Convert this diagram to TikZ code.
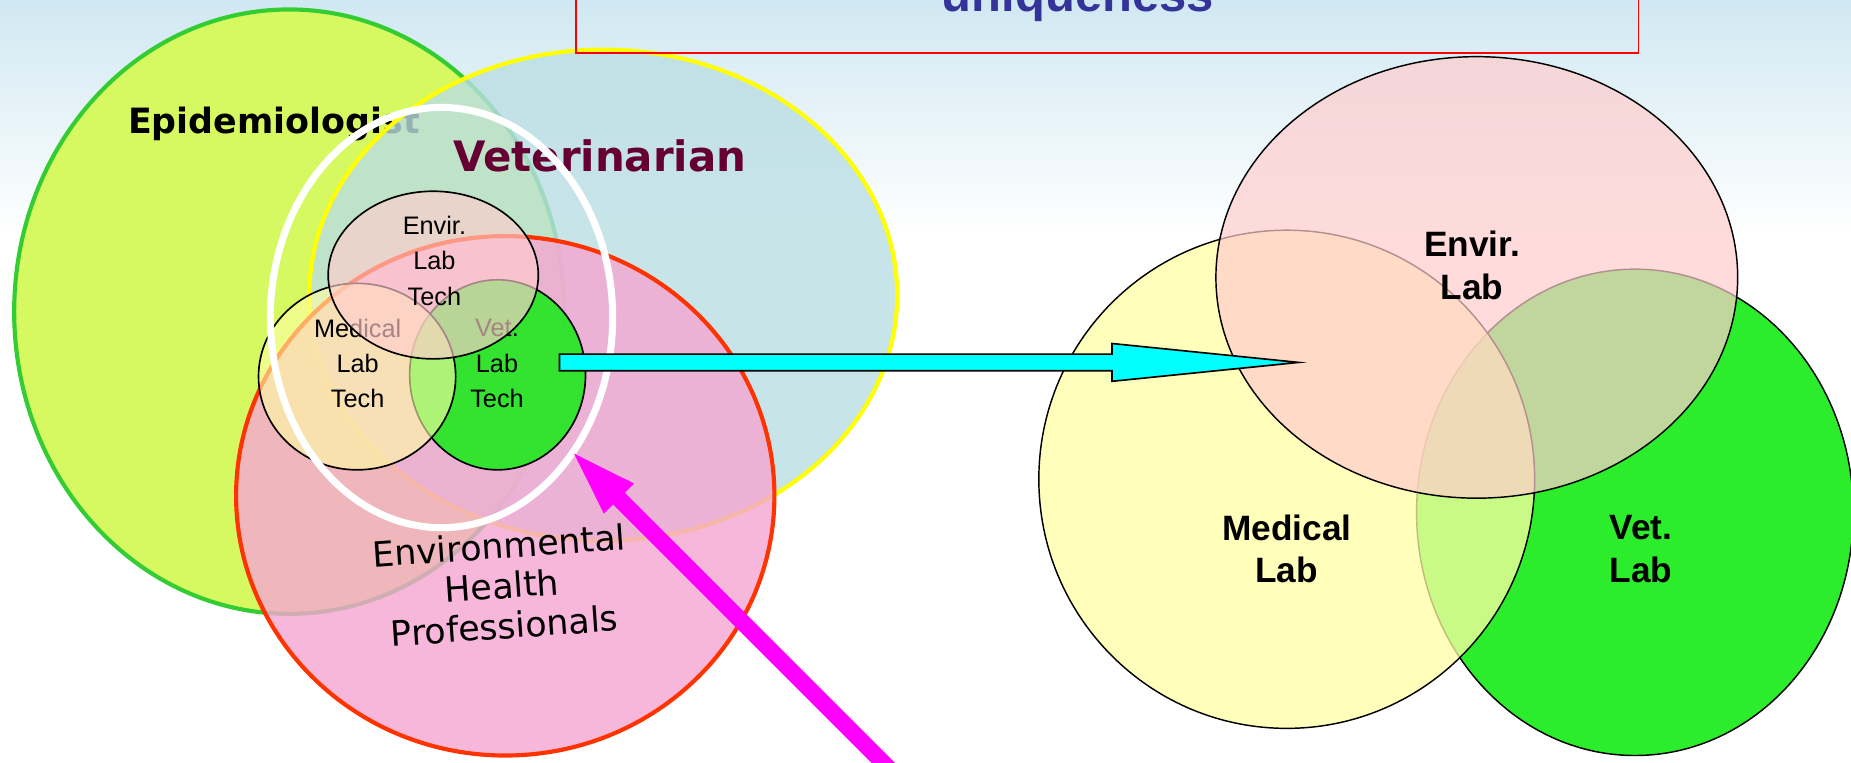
\documentclass[tikz,border=0pt]{standalone}
\usepackage{fontspec}
\setmainfont{Liberation Sans}
\newfontfamily\verdana{DejaVu Sans}
\usetikzlibrary{calc,arrows.meta}

\definecolor{epigreen}{RGB}{214,248,96}
\definecolor{epiline}{RGB}{51,204,51}
\definecolor{vetblue}{RGB}{186,222,228}
\definecolor{vetline}{RGB}{255,255,0}
\definecolor{envpink}{RGB}{246,166,210}
\definecolor{envline}{RGB}{255,51,0}
\definecolor{labpink}{RGB}{255,205,205}
\definecolor{labyellow}{RGB}{255,255,165}
\definecolor{labgreen}{RGB}{20,235,20}
\definecolor{skyblue}{RGB}{208,232,242}
\definecolor{vetred}{RGB}{102,0,51}
\definecolor{titleblue}{RGB}{51,51,153}
\definecolor{arrowcyan}{RGB}{0,255,255}
\definecolor{arrowmagenta}{RGB}{255,0,255}

\begin{document}
\begin{tikzpicture}[x=0.02cm,y=-0.02cm]
% Styles
\tikzstyle{big ring}=[line width=2pt,fill opacity=0.8]
\tikzstyle{lab ring}=[draw=black,line width=0.8pt]
\tikzstyle{small text}=[align=center,font=\fontsize{12.2}{17}\selectfont]
\tikzstyle{lab text}=[align=center,font=\bfseries\fontsize{17}{20.5}\selectfont]
\tikzstyle{cyan box}=[draw=black,fill=arrowcyan,line width=0.8pt,line join=miter]
\tikzstyle{magenta arrow}=[draw=arrowmagenta,line width=8pt,-{Triangle[length=1.2cm,width=0.62cm]}]

% background
\useasboundingbox (0,0) rectangle (1568,646);
\fill[white] (0,0) rectangle (1568,646);
\shade[top color=skyblue,bottom color=white] (0,0) rectangle (1568,200);

% the three professions
\draw[big ring,draw=epiline,fill=epigreen,fill opacity=1] (245,264) ellipse [x radius=233, y radius=256];
\node[font=\verdana\bfseries\fontsize{16.8}{20}\selectfont] (epi) at (232,105) {Epidemiologist};
\draw[big ring,draw=vetline,fill=vetblue] (511,250) ellipse [x radius=249, y radius=208];
\node[font=\verdana\bfseries\fontsize{20.2}{24}\selectfont,text=vetred] (vet) at (508,132) {Veterinarian};
\draw[big ring,draw=envline,fill=envpink] (428,420) ellipse [x radius=228, y radius=220];
\node[font=\verdana\fontsize{16.8}{19.4}\selectfont,align=center,rotate=4] (ehp) at (425,496) {Environmental\\Health\\Professionals};

% the lab techs
\draw[lab ring,fill=labgreen,fill opacity=0.85] (421.5,317.5) ellipse [x radius=74.5, y radius=80.5];
\node[small text] (vettech) at (421,308) {Vet.\\Lab\\Tech};
\draw[lab ring,fill=labyellow,fill opacity=0.6] (302.5,319) ellipse [x radius=83.5, y radius=79];
\node[small text] (medtech) at (303,308) {Medical\\Lab\\Tech};
\draw[lab ring,fill=labpink,fill opacity=0.65] (367,233) ellipse [x radius=89, y radius=71];
\node[small text] (envtech) at (368,221) {Envir.\\Lab\\Tech};

% white ring round the techs
\draw[white,line width=3.4pt] (374,269) ellipse [x radius=145, y radius=178];

% the labs
\draw[lab ring,line width=0.7pt,fill=labgreen!90!white] (1385,434) ellipse [x radius=185, y radius=206];
\draw[lab ring,line width=0.7pt,fill=labyellow,fill opacity=0.75] (1090,406) ellipse [x radius=210, y radius=211];
\draw[lab ring,line width=0.7pt,fill=labpink,fill opacity=0.7] (1251,235) ellipse [x radius=221, y radius=187];
\node[lab text] (envlab) at (1247,225) {Envir.\\Lab};
\node[lab text] (medlab) at (1090,465) {Medical\\Lab};
\node[lab text] (vetlab) at (1390,465) {Vet.\\Lab};

% arrows
\coordinate (cyanstart) at (474,307);
\coordinate (cyantip) at (1100,307);
\draw[cyan box] ($(cyanstart)+(0,-7)$) -- ($(cyantip)+(-158,-7)$) -- ($(cyantip)+(-158,-16)$)
  -- (cyantip) -- ($(cyantip)+(-158,16)$) -- ($(cyantip)+(-158,7)$) -- ($(cyanstart)+(0,7)$) -- cycle;
\coordinate (magtip) at (482,380);
\coordinate (magtail) at (760,658);
\draw[magenta arrow] (magtail) -- (magtip);

% title box
\draw[red,line width=0.8pt] (488,-20) rectangle (1388,45);
\node[anchor=base,text=titleblue,font=\bfseries\fontsize{23.6}{28}\selectfont] (title) at (913,10) {uniqueness};

\end{tikzpicture}
\end{document}
